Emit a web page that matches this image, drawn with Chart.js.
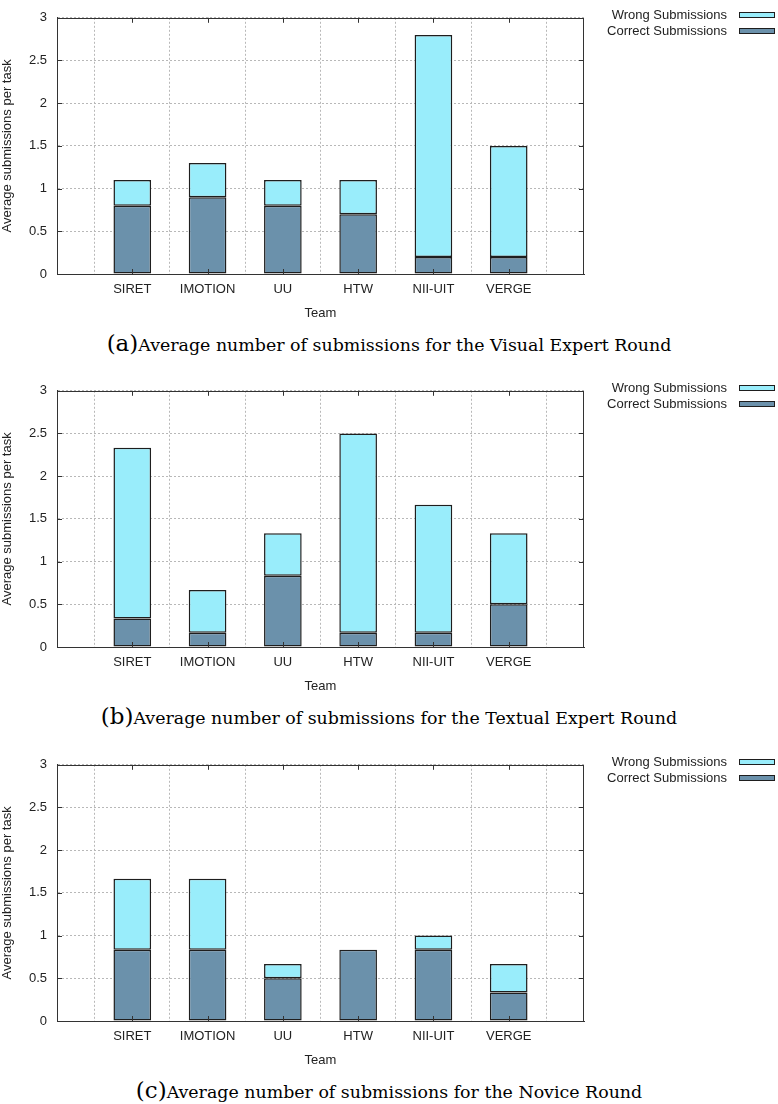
<!DOCTYPE html>
<html>
<head>
<meta charset="utf-8">
<script src="https://cdn.jsdelivr.net/npm/chart.js@4/dist/chart.umd.min.js"></script>
<style>
  body { margin: 0; background: #fff; }
  .block { position: absolute; left: 0; width: 778px; height: 330px; }
  .caption {
    position: absolute; left: 0; width: 778px; text-align: center;
    font-family: 'DejaVu Serif', 'Liberation Serif', serif; font-size: 17.4px;
    color: #000; white-space: nowrap; line-height: 26px;
  }
  .caption .tag { font-size: 23px; }
</style>
</head>
<body>
<div class="block" style="top:0px"><canvas id="chartA" width="778" height="330"></canvas></div>
<div class="caption" style="top:330px"><span class="tag">(a)</span>Average number of submissions for the Visual Expert Round</div>
<div class="block" style="top:373px"><canvas id="chartB" width="778" height="330"></canvas></div>
<div class="caption" style="top:703px"><span class="tag">(b)</span>Average number of submissions for the Textual Expert Round</div>
<div class="block" style="top:747px"><canvas id="chartC" width="778" height="330"></canvas></div>
<div class="caption" style="top:1077px"><span class="tag">(c)</span>Average number of submissions for the Novice Round</div>
<script>
'use strict';

const teams = ['SIRET', 'IMOTION', 'UU', 'HTW', 'NII-UIT', 'VERGE'];
const yTicks = [0, 0.5, 1, 1.5, 2, 2.5, 3];

// (a) visual expert round
const visualCorrect = [0.8, 0.9, 0.8, 0.7, 0.2, 0.2];
const visualWrong = [0.3, 0.4, 0.3, 0.4, 2.6, 1.3];

// (b) textual expert round
const textualCorrect = [0.333, 0.167, 0.833, 0.167, 0.167, 0.5];
const textualWrong = [2.0, 0.5, 0.5, 2.333, 1.5, 0.833];

// (c) novice round
const noviceCorrect = [0.833, 0.833, 0.5, 0.833, 0.833, 0.333];
const noviceWrong = [0.833, 0.833, 0.167, 0, 0.167, 0.333];

const correctColor = '#6b91ab';
const wrongColor = '#99edfb';
const edgeColor = '#1e1e1e';
const textFont = "'Liberation Sans', Arial, sans-serif";

// empty slot on each side, like gnuplot's padded x range
function pad(arr, fill) {
    return [fill].concat(arr, [fill]);
}

// box round the plot plus the little inward tick marks
const framePlugin = {
    id: 'frame',
    afterDatasetsDraw(chart) {
        const ctx = chart.ctx;
        const a = chart.chartArea;
        const y = chart.scales.y;
        const x = chart.scales.x;
        ctx.save();
        ctx.strokeStyle = '#333';
        ctx.lineWidth = 1;
        ctx.strokeRect(Math.round(a.left) + 0.5, Math.round(a.top) + 0.5,
            Math.round(a.right - a.left) - 1, Math.round(a.bottom - a.top));
        ctx.beginPath();
        yTicks.forEach(function(v) {
            const py = Math.round(y.getPixelForValue(v)) + 0.5;
            ctx.moveTo(a.left, py); ctx.lineTo(a.left + 5, py);
            ctx.moveTo(a.right, py); ctx.lineTo(a.right - 5, py);
        });
        for (let i = 1; i <= teams.length; i++) {
            const px = Math.round(x.getPixelForValue(i)) + 0.5;
            ctx.moveTo(px, a.top); ctx.lineTo(px, a.top + 5);
            ctx.moveTo(px, a.bottom); ctx.lineTo(px, a.bottom - 5);
        }
        ctx.stroke();
        ctx.restore();
    }
};

// gnuplot style key: text first, swatch after it
const keyPlugin = {
    id: 'gnukey',
    afterDraw(chart) {
        const ctx = chart.ctx;
        const sets = chart.data.datasets.slice().reverse();
        ctx.save();
        ctx.font = '13px ' + textFont;
        ctx.textAlign = 'right';
        ctx.textBaseline = 'middle';
        sets.forEach(function(ds, i) {
            const rowY = 15 + i * 16;
            ctx.fillStyle = '#222';
            ctx.fillText(ds.label, 727, rowY);
            ctx.fillStyle = ds.backgroundColor;
            ctx.fillRect(739, rowY - 3, 36, 5);
            ctx.strokeStyle = edgeColor;
            ctx.strokeRect(739.5, rowY - 2.5, 35, 5);
        });
        ctx.restore();
    }
};

function makeChart(id, correct, wrong) {
    return new Chart(document.getElementById(id), {
        type: 'bar',
        data: {
            labels: pad(teams, ''),
            datasets: [{
                label: 'Correct Submissions',
                data: pad(correct, null),
                backgroundColor: correctColor,
                borderColor: edgeColor,
                borderWidth: 1.5,
                borderSkipped: false
            }, {
                label: 'Wrong Submissions',
                data: pad(wrong, null),
                backgroundColor: wrongColor,
                borderColor: edgeColor,
                borderWidth: 1.5,
                borderSkipped: false
            }]
        },
        options: {
            responsive: false,
            animation: false,
            events: [],
            barPercentage: 0.5,
            categoryPercentage: 1,
            layout: { padding: { top: 8, right: 194, left: 0, bottom: 0 } },
            plugins: {
                legend: { display: false },
                tooltip: { enabled: false }
            },
            scales: {
                x: {
                    stacked: true,
                    offset: false,
                    grid: { color: '#b8b8b8', drawTicks: false },
                    border: { color: '#333', dash: [2, 2] },
                    ticks: {
                        autoSkip: false, maxRotation: 0, padding: 8,
                        color: '#222', font: { family: textFont, size: 13 }
                    },
                    title: {
                        display: true, text: 'Team', color: '#222',
                        padding: { top: 0, bottom: 9 },
                        font: { family: textFont, size: 13 }
                    },
                    afterFit(scale) { scale.height = 56; }
                },
                y: {
                    stacked: true,
                    min: 0,
                    max: 3,
                    afterBuildTicks(scale) {
                        scale.ticks = yTicks.map(function(v) { return { value: v }; });
                    },
                    grid: { color: '#b8b8b8', drawTicks: false },
                    border: { color: '#333', dash: [2, 2] },
                    ticks: {
                        padding: 10, color: '#222',
                        font: { family: textFont, size: 13 },
                        callback: function(v) { return String(v); }
                    },
                    title: {
                        display: true, text: 'Average submissions per task', color: '#222',
                        padding: 0,
                        font: { family: textFont, size: 13 }
                    },
                    afterFit(scale) { scale.width = 57; }
                }
            }
        },
        plugins: [framePlugin, keyPlugin]
    });
}

makeChart('chartA', visualCorrect, visualWrong);
makeChart('chartB', textualCorrect, textualWrong);
makeChart('chartC', noviceCorrect, noviceWrong);
</script>
</body>
</html>
